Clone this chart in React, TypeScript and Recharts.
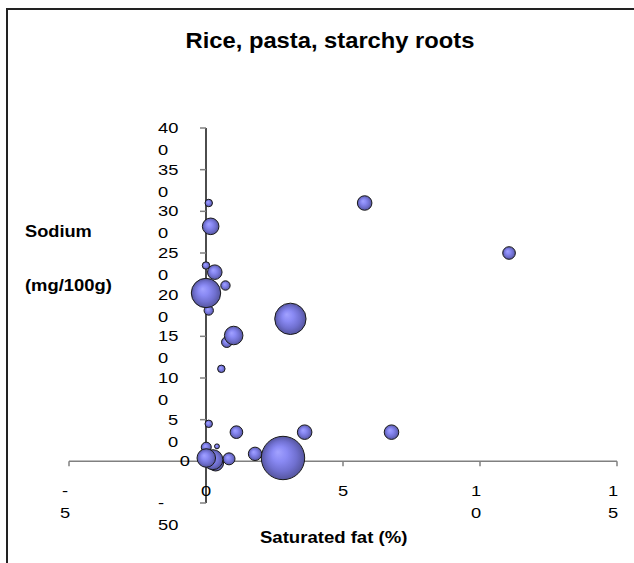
import { ScatterChart, Scatter, XAxis, YAxis, ZAxis, ReferenceLine, ReferenceDot } from 'recharts';

const satFat = [0.1, 0.17, 0, 0.32, 0.71, 0.1, 0, 0.76, 1.01, 0.56, 0.1, 1.11, 5.79, 11.06, 3.08, 3.6, 6.77, 1.79, 2.81, 0.84, 0.01, 0.4, 0.35, 0.25, 0.01];
const sodium = [310, 282, 235, 227, 211, 181, 202, 143, 151, 111, 45, 35, 310, 250, 171, 35, 35, 9, 4, 3, 17, 18, -2, 2, 4];
const bubbleSize = [14, 69, 14, 53, 22, 22, 216, 28, 86, 14, 14, 40, 53, 40, 246, 53, 53, 45, 471, 36, 25, 6, 64, 100, 86];

const xTicks = [-5, 0, 5, 10, 15];
const xTickLabels = [['-', '5'], ['0'], ['5'], ['1', '0'], ['1', '5']];
const yTicks = [400, 350, 300, 250, 200, 150, 100, 50, 0, -50];
const yTickLabels = [['40', '0'], ['35', '0'], ['30', '0'], ['25', '0'], ['20', '0'], ['15', '0'], ['10', '0'], ['5', '0'], ['0'], ['-', '50']];

const title = 'Rice, pasta, starchy roots';
const xTitle = 'Saturated fat (%)';
const yTitle = ['Sodium', '(mg/100g)'];

const data = satFat.map((x, i) => ({ x, y: sodium[i], z: bubbleSize[i] }));

const FONT = '"Liberation Sans", Arial, sans-serif';

function SText({ x, y, sx = 1, size, bold, anchor = 'start', children }: any) {
  return (
    <text
      transform={`translate(${x} ${y}) scale(${sx} 1)`}
      textAnchor={anchor}
      fontSize={size}
      fontWeight={bold ? 'bold' : 'normal'}
      fontFamily={FONT}
      fill="#000"
    >
      {children}
    </text>
  );
}

// tick mark + wrapped label hung off a reference dot sitting on the axis
const xTickShape = (lines: string[]) => (p: any) => {
  const dx = lines.length > 1 ? -4 : 0;
  return (
    <g>
      <line x1={p.cx} y1={p.cy} x2={p.cx} y2={p.cy + 5} stroke="#808080" strokeWidth={1.5} />
      {lines.map((t, i) => (
        <SText key={i} x={p.cx + dx} y={p.cy + 35 + i * 22} sx={1.22} size={15} anchor="middle">{t}</SText>
      ))}
    </g>
  );
};

const yTickShape = (lines: string[]) => (p: any) => {
  const widest = Math.max(...lines.map(l => l.length));
  return (
    <g>
      <line x1={p.cx - 6} y1={p.cy} x2={p.cx} y2={p.cy} stroke="#808080" strokeWidth={1.5} />
      {lines.length === 1 ? (
        <SText x={p.cx - 16} y={p.cy + 5} sx={1.22} size={15} anchor="end">{lines[0]}</SText>
      ) : (
        lines.map((t, i) => (
          <SText key={i} x={p.cx - 28 - widest * 10} y={p.cy + 5 + i * 22} sx={1.22} size={15}>{t}</SText>
        ))
      )}
    </g>
  );
};

function Bubble(p: any) {
  const r = p.width ? p.width / 2 : Math.sqrt((p.size || 0) / Math.PI);
  return <circle cx={p.cx} cy={p.cy} r={r} fill="url(#bubbleGrad)" stroke="#1a1a1a" strokeWidth={1} />;
}

export default function App() {
  return (
    <div style={{ position: 'absolute', left: 0, top: 0, width: 634, height: 563, background: '#fff' }}>
      <svg width={0} height={0} style={{ position: 'absolute' }}>
        <defs>
          <radialGradient id="bubbleGrad" cx="0.5" cy="0.5" r="0.5" fx="0.38" fy="0.36">
            <stop offset="0" stopColor="#a2a2ff" />
            <stop offset="0.35" stopColor="#8a8af4" />
            <stop offset="0.7" stopColor="#7070d0" />
            <stop offset="1" stopColor="#55559e" />
          </radialGradient>
        </defs>
      </svg>
      <ScatterChart width={634} height={563} margin={{ top: 128, right: 17, bottom: 60, left: 69 }}>
        <XAxis type="number" dataKey="x" domain={[-5, 15]} allowDataOverflow hide />
        <YAxis type="number" dataKey="y" domain={[-50, 400]} allowDataOverflow hide />
        <ZAxis type="number" dataKey="z" domain={[0, 500]} range={[0, 500 * Math.PI]} />
        <ReferenceLine y={0} stroke="#808080" strokeWidth={1.5} ifOverflow="visible" />
        <ReferenceLine x={0} stroke="#000" strokeWidth={1.4} ifOverflow="visible" />
        {xTicks.map((t, i) => (
          <ReferenceDot key={`xt-${t}`} x={t} y={0} r={0} ifOverflow="visible" shape={xTickShape(xTickLabels[i])} />
        ))}
        {yTicks.map((t, i) => (
          <ReferenceDot key={`yt-${t}`} x={0} y={t} r={0} ifOverflow="visible" shape={yTickShape(yTickLabels[i])} />
        ))}
        <Scatter data={data} shape={Bubble} isAnimationActive={false} />
      </ScatterChart>
      <svg width={634} height={563} style={{ position: 'absolute', left: 0, top: 0, pointerEvents: 'none' }}>
        <path d="M7 600 L7 9 L700 9" fill="none" stroke="#222" strokeWidth={2} />
        <SText x={330} y={48} sx={1.08} size={22} bold anchor="middle">{title}</SText>
        <SText x={25} y={237} sx={1.14} size={16} bold>{yTitle[0]}</SText>
        <SText x={25} y={291} sx={1.15} size={16} bold>{yTitle[1]}</SText>
        <SText x={260} y={543} sx={1.16} size={16} bold>{xTitle}</SText>
      </svg>
    </div>
  );
}
